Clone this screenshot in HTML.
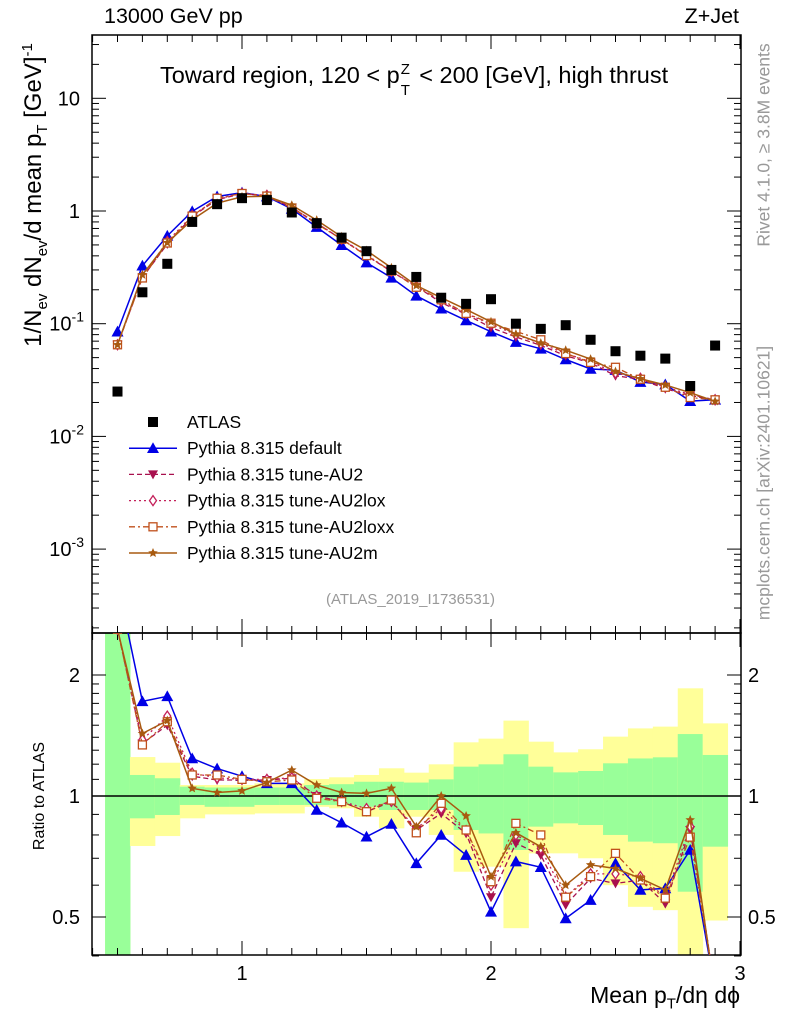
<!DOCTYPE html>
<html><head><meta charset="utf-8"><style>
body{margin:0;background:#fff}
svg{display:block;font-family:"Liberation Sans",sans-serif}
</style></head><body>
<svg id="c" width="786" height="1024" viewBox="0 0 786 1024"></svg>
<script>
const xs=[0.5,0.6,0.7,0.8,0.9,1.0,1.1,1.2,1.3,1.4,1.5,1.6,1.7,1.8,1.9,2.0,2.1,2.2,2.3,2.4,2.5,2.6,2.7,2.8,2.9];
const atlas=[0.025,0.19,0.34,0.8,1.15,1.3,1.25,0.97,0.78,0.58,0.44,0.3,0.26,0.17,0.15,0.165,0.1,0.09,0.097,0.072,0.057,0.052,0.049,0.028,0.064];
const rDefault=[3.4,1.72,1.77,1.24,1.17,1.12,1.075,1.075,0.923,0.858,0.792,0.852,0.68,0.8,0.713,0.515,0.687,0.665,0.496,0.551,0.68,0.584,0.589,0.734,0.33];
const rAU2=[2.6,1.35,1.5,1.12,1.096,1.096,1.096,1.107,1.0,0.968,0.914,0.968,0.823,0.905,0.807,0.56,0.763,0.713,0.536,0.624,0.606,0.618,0.54,0.823,0.33];
const rAU2lox=[2.6,1.38,1.58,1.14,1.11,1.1,1.1,1.11,1.0,0.97,0.93,0.97,0.83,0.93,0.82,0.6,0.8,0.74,0.56,0.64,0.64,0.63,0.56,0.84,0.33];
const rAU2loxx=[2.6,1.34,1.53,1.128,1.128,1.1,1.085,1.096,0.987,0.968,0.914,0.977,0.81,0.959,0.823,0.612,0.855,0.8,0.56,0.63,0.72,0.618,0.557,0.79,0.33];
const rAU2m=[2.6,1.43,1.54,1.045,1.02,1.03,1.08,1.16,1.065,1.02,1.015,1.045,0.839,1.0,0.892,0.63,0.81,0.748,0.6,0.674,0.66,0.624,0.584,0.872,0.32];
const yelUp=[3,1.25,1.21,1.065,1.065,1.065,1.075,1.075,1.102,1.113,1.128,1.172,1.143,1.199,1.36,1.389,1.54,1.365,1.284,1.307,1.405,1.473,1.488,1.853,1.516];
const yelDn=[0.3,0.751,0.795,0.88,0.9,0.9,0.905,0.905,0.94,0.932,0.888,0.831,0.888,0.8,0.648,0.667,0.469,0.72,0.72,0.7,0.6,0.53,0.52,0.3,0.49];
const grnUp=[3,1.128,1.107,1.055,1.05,1.05,1.05,1.05,1.065,1.07,1.085,1.085,1.08,1.1,1.183,1.199,1.27,1.183,1.145,1.154,1.206,1.24,1.248,1.426,1.265];
const grnDn=[0.3,0.88,0.897,0.95,0.94,0.94,0.95,0.95,0.95,0.95,0.94,0.923,0.923,0.923,0.823,0.807,0.734,0.839,0.855,0.847,0.8,0.77,0.763,0.578,0.748];
const xTicks=[1,2,3];
const logTicks=[{v:10,t:"10"},{v:1,t:"1"},{v:0.1,e:"-1"},{v:0.01,e:"-2"},{v:0.001,e:"-3"}];
const rTicks=[0.5,1,2];

const svg=document.getElementById('c');const NS='http://www.w3.org/2000/svg';
function mk(t,a,p){const e=document.createElementNS(NS,t);for(const k in a)e.setAttribute(k,a[k]);(p||svg).appendChild(e);return e;}
const L=92,R=741,T=35,MB=633,B=955;
const X=v=>242+(v-1)*249;
const Y=v=>211-Math.log10(v)*112.7;
const RY=v=>796-Math.log2(v)*121;
const clipM=mk('clipPath',{id:'cm'});mk('rect',{x:L,y:T,width:R-L,height:MB-T},clipM);
const clipR=mk('clipPath',{id:'cr'});mk('rect',{x:L,y:MB,width:R-L,height:B-MB},clipR);
const gBand=mk('g',{'clip-path':'url(#cr)'});

xs.forEach((x,i)=>{
 const y=mk('rect',{x:X(x-0.05),width:X(x+0.05)-X(x-0.05)+0.5,y:RY(yelUp[i]),height:RY(yelDn[i])-RY(yelUp[i]),fill:'#ffff99'},gBand);
 
 const g=mk('rect',{x:X(x-0.05),width:X(x+0.05)-X(x-0.05)+0.5,y:RY(grnUp[i]),height:RY(grnDn[i])-RY(grnUp[i]),fill:'#99ff99'},gBand);
 
});
mk('line',{x1:L,x2:R,y1:RY(1),y2:RY(1),stroke:'#000','stroke-width':1.5});
mk('rect',{x:L,y:T,width:R-L,height:MB-T,fill:'none',stroke:'#000','stroke-width':1.5});
mk('rect',{x:L,y:MB,width:R-L,height:B-MB,fill:'none',stroke:'#000','stroke-width':1.5});
for(let v=0.4;v<=3.001;v+=0.1){const px=X(v);const maj=Math.abs(v-Math.round(v))<0.01;const l=maj?14:7;
 [[MB,MB-l],[T,T+l],[B,B-l],[MB,MB+l]].forEach(a=>mk('line',{x1:px,x2:px,y1:a[0],y2:a[1],stroke:'#000'}));}
xTicks.forEach(v=>{const t=mk('text',{x:X(v),y:980,'font-size':20,'text-anchor':'middle'});t.textContent=v;
 });
for(let d=-4;d<=1;d++)for(let m=1;m<=9;m++){const v=m*Math.pow(10,d);const py=Y(v);if(py<T||py>MB)continue;const l=m==1?14:7;
 mk('line',{x1:L,x2:L+l,y1:py,y2:py,stroke:'#000'});mk('line',{x1:R,x2:R-l,y1:py,y2:py,stroke:'#000'});}
logTicks.forEach(o=>{const t=mk('text',{x:o.e?84:80,y:Y(o.v)+7,'font-size':20,'text-anchor':'end'});
 if(o.e){t.textContent='10';const s=mk('tspan',{dy:-9,'font-size':14},t);s.textContent=o.e;}else t.textContent=o.t;
 });
[0.4,0.5,0.6,0.7,0.8,0.9,1,1.1,1.2,1.3,1.4,1.5,1.6,1.7,1.8,1.9,2].forEach(v=>{const py=RY(v);const l=rTicks.includes(v)?14:7;
 mk('line',{x1:L,x2:L+l,y1:py,y2:py,stroke:'#000'});mk('line',{x1:R,x2:R-l,y1:py,y2:py,stroke:'#000'});});
rTicks.forEach(v=>{[[80,'end'],[748,'start']].forEach(a=>{const t=mk('text',{x:a[0],y:RY(v)+7,'font-size':20,'text-anchor':a[1]});t.textContent=v;
 });});
function marker(g,type,x,y,col,s){
 if(type=='sq')return mk('rect',{x:x-s,y:y-s,width:2*s,height:2*s,fill:col},g);
 if(type=='tri')return mk('polygon',{points:`${x},${y-s} ${x-s},${y+s*0.8} ${x+s},${y+s*0.8}`,fill:col},g);
 if(type=='itri')return mk('polygon',{points:`${x},${y+s} ${x-s},${y-s*0.8} ${x+s},${y-s*0.8}`,fill:col},g);
 if(type=='dia')return mk('polygon',{points:`${x},${y-s} ${x-s*0.7},${y} ${x},${y+s} ${x+s*0.7},${y}`,fill:'#fff',stroke:col,'stroke-width':1.3},g);
 if(type=='osq')return mk('rect',{x:x-s*0.8,y:y-s*0.8,width:1.6*s,height:1.6*s,fill:'#fff',stroke:col,'stroke-width':1.3},g);
 if(type=='star'){let p=[];for(let k=0;k<10;k++){const r=k%2?s*0.45:s;const a=-Math.PI/2+k*Math.PI/5;p.push((x+r*Math.cos(a))+','+(y+r*Math.sin(a)));}return mk('polygon',{points:p.join(' '),fill:col},g);}
}
const series=[
 {n:'pythia-default',r:rDefault,c:'#0000e6',d:'',m:'tri',s:6,w:1.5},
 {n:'pythia-au2',r:rAU2,c:'#a8104e',d:'5,3',m:'itri',s:5,w:1.3},
 {n:'pythia-au2lox',r:rAU2lox,c:'#c4205a',d:'2,3',m:'dia',s:5,w:1.3},
 {n:'pythia-au2loxx',r:rAU2loxx,c:'#c0501c',d:'6,3,2,3',m:'osq',s:5,w:1.3},
 {n:'pythia-au2m',r:rAU2m,c:'#a85a10',d:'',m:'star',s:5,w:1.5}];
series.forEach(se=>{
 const gm=mk('g',{'clip-path':'url(#cm)'});
 mk('polyline',{points:xs.map((x,i)=>X(x)+','+Y(atlas[i]*se.r[i])).join(' '),fill:'none',stroke:se.c,'stroke-width':se.w,'stroke-dasharray':se.d},gm);
 xs.forEach((x,i)=>{const e=marker(gm,se.m,X(x),Y(atlas[i]*se.r[i]),se.c,se.s);});
 const gr=mk('g',{'clip-path':'url(#cr)'});
 mk('polyline',{points:xs.map((x,i)=>X(x)+','+RY(se.r[i])).join(' '),fill:'none',stroke:se.c,'stroke-width':se.w,'stroke-dasharray':se.d},gr);
 xs.forEach((x,i)=>{const e=marker(gr,se.m,X(x),RY(se.r[i]),se.c,se.s);});
});
const ga=mk('g',{'clip-path':'url(#cm)'});
xs.forEach((x,i)=>{const e=marker(ga,'sq',X(x),Y(atlas[i]),'#000',5);});
const lg=mk('g',{});
const lab=['ATLAS','Pythia 8.315 default','Pythia 8.315 tune-AU2','Pythia 8.315 tune-AU2lox','Pythia 8.315 tune-AU2loxx','Pythia 8.315 tune-AU2m'];
lab.forEach((t,i)=>{const y=422+i*26.2;const g=mk('g',{},lg);
 if(i==0)marker(g,'sq',153,y,'#000',5);else{const se=series[i-1];mk('line',{x1:129,x2:177,y1:y,y2:y,stroke:se.c,'stroke-width':se.w,'stroke-dasharray':se.d},g);marker(g,se.m,153,y,se.c,se.s);}
 const tx=mk('text',{x:187,y:y+6,'font-size':17.5},g);tx.textContent=t;});
</script>
<div style="position:absolute;left:0;top:0;width:786px;height:1024px;pointer-events:none;font-family:'Liberation Sans',sans-serif">
<div style="position:absolute;left:104px;top:4px;font-size:21.5px">13000 GeV pp</div>
<div style="position:absolute;right:47px;top:4px;font-size:21.5px">Z+Jet</div>
<div style="position:absolute;left:160px;top:62px;font-size:23.5px;white-space:nowrap">Toward region, 120 &lt; p<span style="display:inline-block;position:relative;width:13px;height:10px"><span style="position:absolute;left:1px;top:-12px;font-size:15px">Z</span><span style="position:absolute;left:1px;top:9px;font-size:15px">T</span></span> &lt; 200 [GeV], high thrust</div>
<div style="position:absolute;left:326px;top:591px;font-size:15px;color:#999">(ATLAS_2019_I1736531)</div>
<div style="position:absolute;left:35px;top:195px;transform:translate(-50%,-50%) rotate(-90deg);font-size:24px;white-space:nowrap">1/N<sub style="font-size:15px">ev</sub> dN<sub style="font-size:15px">ev</sub>/d mean p<sub style="font-size:15px">T</sub> [GeV]<sup style="font-size:15px">-1</sup></div>
<div style="position:absolute;left:40px;top:796px;transform:translate(-50%,-50%) rotate(-90deg);font-size:16px;white-space:nowrap">Ratio to ATLAS</div>
<div style="position:absolute;left:764px;top:145px;transform:translate(-50%,-50%) rotate(-90deg);font-size:17.5px;color:#999;white-space:nowrap">Rivet 4.1.0, ≥ 3.8M events</div>
<div style="position:absolute;left:764px;top:483px;transform:translate(-50%,-50%) rotate(-90deg);font-size:17.5px;color:#999;white-space:nowrap">mcplots.cern.ch [arXiv:2401.10621]</div>
<div style="position:absolute;right:46px;top:982px;font-size:23px;white-space:nowrap">Mean p<sub style="font-size:15px">T</sub>/dη dϕ</div>
</div>
</body></html>
